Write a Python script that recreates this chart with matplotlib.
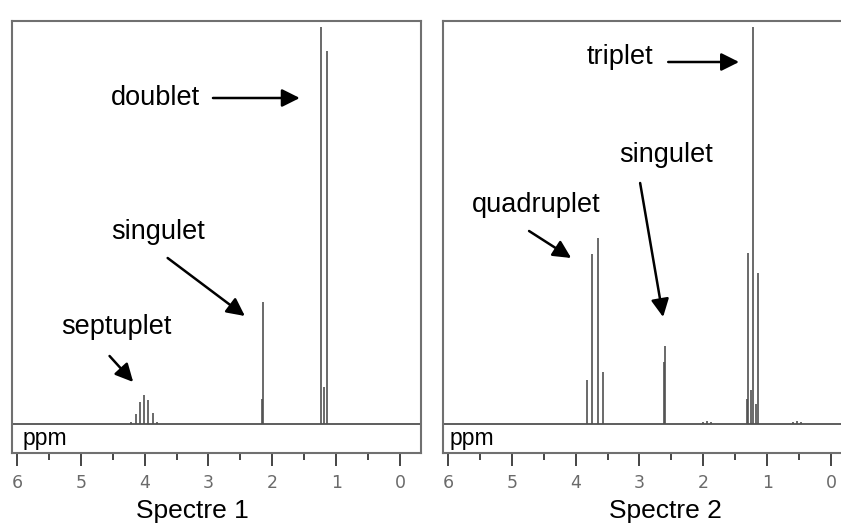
"""Deux spectres RMN 1H avec annotation des multiplicites."""

import matplotlib
matplotlib.use('Agg')
import matplotlib.pyplot as plt
import numpy as np

plt.rcParams['font.family'] = ['Liberation Sans', 'DejaVu Sans']

# spectre 1 : position des raies (ppm) et intensites
ppm_1 = [4.21, 4.14, 4.07, 4.01, 3.94, 3.87, 3.80, 2.16, 2.14, 1.233, 1.19, 1.149]
int_1 = [2, 10, 22, 29, 24, 11, 2, 25, 122, 397, 37, 373]

# spectre 2
ppm_2 = [3.818, 3.740, 3.656, 3.577, 2.615, 2.600, 2.0, 1.94, 1.88,
         1.31, 1.305, 1.25, 1.227, 1.17, 1.144, 0.60, 0.53, 0.47]
int_2 = [44, 170, 186, 52, 62, 78, 2, 3, 2,
         25, 171, 34, 397, 20, 151, 2, 3, 2]

ticks_major = [6, 5, 4, 3, 2, 1, 0]
ticks_minor = [5.5, 4.5, 3.5, 2.5, 1.5, 0.5]

# annotations : texte, position du texte, debut et fin de fleche (ppm, intensite)
notes_1 = [('doublet', (3.83, 326), (2.93, 326), (1.57, 326)),
           ('singulet', (3.79, 192), (3.64, 166), (2.43, 108)),
           ('septuplet', (4.45, 97), (4.55, 68), (4.18, 42))]
notes_2 = [('triplet', (3.31, 367), (2.55, 362), (1.44, 362)),
           ('singulet', (2.58, 269), (2.99, 241), (2.63, 107)),
           ('quadruplet', (4.62, 219), (4.73, 193), (4.07, 166))]

fig = plt.figure(figsize=(8.41, 5.24), dpi=100)

W, H = 841., 524.
panels = [(12, ppm_1, int_1, notes_1, 'Spectre 1', 0.44, 11),
          (443, ppm_2, int_2, notes_2, 'Spectre 2', 0.543, 7)]

for left, ppm, inten, notes, title, tx, ppm_off in panels:
    ax = fig.add_axes([left / W, 1 - 453 / H, 409 / W, 432 / H])
    ax.set_xlim(6 + 5 / 63.8, -21 / 63.8)
    ax.set_ylim(-29, 403)

    ax.axhline(0, color='#505050', lw=1.3)
    ax.vlines(ppm, 0, inten, color='#505050', lw=1.2)

    ax.set_xticks(ticks_major)
    ax.set_xticks(ticks_minor, minor=True)
    ax.set_yticks([])
    ax.tick_params(axis='x', which='major', direction='out', length=9,
                   width=1.4, color='#444444', labelcolor='#6a6a6a',
                   labelsize=12.5, pad=6)
    ax.tick_params(axis='x', which='minor', direction='out', length=5,
                   width=1.4, color='#444444')
    for lab in ax.get_xticklabels():
        lab.set_family('DejaVu Sans')
    for sp in ax.spines.values():
        sp.set_color('#707070')
        sp.set_linewidth(1.5)

    x0 = ax.get_xlim()[0] - ppm_off / 63.8
    ax.text(x0, -14, 'ppm', fontsize=16.5, ha='left', va='center')

    for label, pos, start, end in notes:
        ax.text(pos[0], pos[1], label, fontsize=19.5, ha='center', va='center')
        ax.annotate('', xy=end, xytext=start,
                    arrowprops=dict(arrowstyle='-|>', mutation_scale=27,
                                    lw=1.8, color='k',
                                    shrinkA=0, shrinkB=0))

    ax.text(tx, -0.134, title, transform=ax.transAxes, fontsize=19,
            ha='center', va='center')

plt.savefig('out.png', dpi=100)
